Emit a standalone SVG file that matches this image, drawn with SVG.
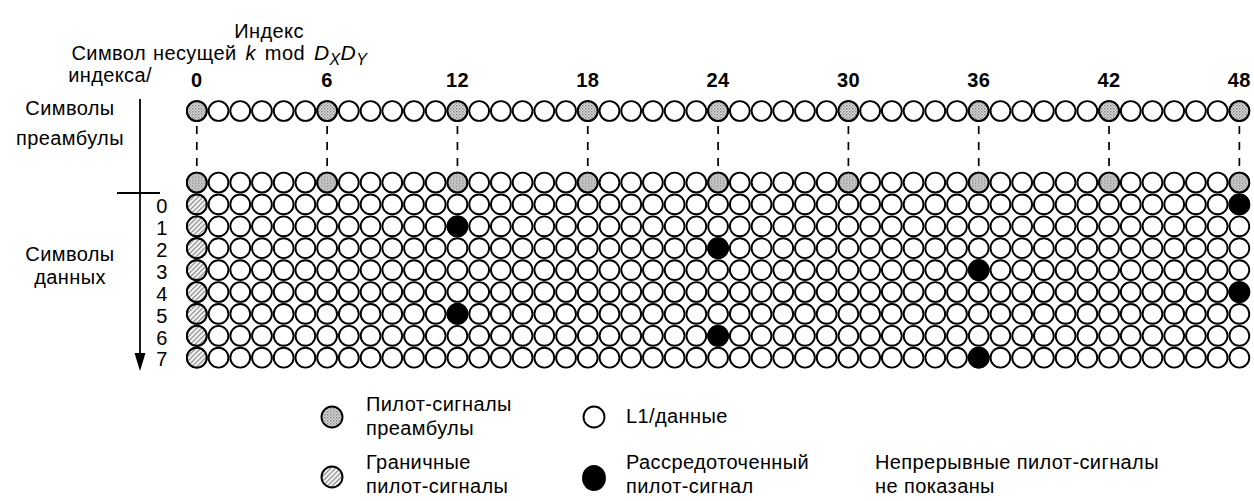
<svg xmlns="http://www.w3.org/2000/svg" xmlns:xlink="http://www.w3.org/1999/xlink" width="1254" height="501" viewBox="0 0 1254 501">
<style>
text{font-family:"Liberation Sans",Arial,sans-serif;font-size:20px;letter-spacing:0.4px;fill:#000}
.b{font-weight:bold;letter-spacing:0}
.n{font-size:19px;letter-spacing:0}
.c{stroke:#000;stroke-width:1.9}
.w{fill:#fff}
.p{fill:url(#stip)}
.e{fill:url(#hatch)}
.s{fill:#000}
.ax{stroke:#000;stroke-width:1.8;fill:none}
.d{stroke:#000;stroke-width:1.7;stroke-dasharray:8 8;fill:none}
</style>
<defs>
<pattern id="stip" width="3" height="3" patternUnits="userSpaceOnUse">
<rect width="3" height="3" fill="#e0e0e0"/>
<rect width="1.5" height="1.5" fill="#808080"/>
<rect x="1.5" y="1.5" width="1.5" height="1.5" fill="#a8a8a8"/>
</pattern>
<pattern id="hatch" width="3.4" height="3.4" patternUnits="userSpaceOnUse" patternTransform="rotate(45)">
<rect width="3.4" height="3.4" fill="#f4f4f4"/>
<line x1="0.6" y1="0" x2="0.6" y2="3.4" stroke="#777" stroke-width="1"/>
</pattern>
<g id="row" class="c w">
<circle cx="196.8" cy="0" r="9.9"/><circle cx="218.52" cy="0" r="9.9"/><circle cx="240.24" cy="0" r="9.9"/><circle cx="261.96" cy="0" r="9.9"/><circle cx="283.68" cy="0" r="9.9"/><circle cx="305.4" cy="0" r="9.9"/><circle cx="327.12" cy="0" r="9.9"/><circle cx="348.84" cy="0" r="9.9"/><circle cx="370.56" cy="0" r="9.9"/><circle cx="392.28" cy="0" r="9.9"/><circle cx="414" cy="0" r="9.9"/><circle cx="435.72" cy="0" r="9.9"/><circle cx="457.44" cy="0" r="9.9"/><circle cx="479.16" cy="0" r="9.9"/><circle cx="500.88" cy="0" r="9.9"/><circle cx="522.6" cy="0" r="9.9"/><circle cx="544.32" cy="0" r="9.9"/><circle cx="566.04" cy="0" r="9.9"/><circle cx="587.76" cy="0" r="9.9"/><circle cx="609.48" cy="0" r="9.9"/><circle cx="631.2" cy="0" r="9.9"/><circle cx="652.92" cy="0" r="9.9"/><circle cx="674.64" cy="0" r="9.9"/><circle cx="696.36" cy="0" r="9.9"/><circle cx="718.08" cy="0" r="9.9"/><circle cx="739.8" cy="0" r="9.9"/><circle cx="761.52" cy="0" r="9.9"/><circle cx="783.24" cy="0" r="9.9"/><circle cx="804.96" cy="0" r="9.9"/><circle cx="826.68" cy="0" r="9.9"/><circle cx="848.4" cy="0" r="9.9"/><circle cx="870.12" cy="0" r="9.9"/><circle cx="891.84" cy="0" r="9.9"/><circle cx="913.56" cy="0" r="9.9"/><circle cx="935.28" cy="0" r="9.9"/><circle cx="957" cy="0" r="9.9"/><circle cx="978.72" cy="0" r="9.9"/><circle cx="1000.44" cy="0" r="9.9"/><circle cx="1022.16" cy="0" r="9.9"/><circle cx="1043.88" cy="0" r="9.9"/><circle cx="1065.6" cy="0" r="9.9"/><circle cx="1087.32" cy="0" r="9.9"/><circle cx="1109.04" cy="0" r="9.9"/><circle cx="1130.76" cy="0" r="9.9"/><circle cx="1152.48" cy="0" r="9.9"/><circle cx="1174.2" cy="0" r="9.9"/><circle cx="1195.92" cy="0" r="9.9"/><circle cx="1217.64" cy="0" r="9.9"/><circle cx="1239.36" cy="0" r="9.9"/>
</g>
<g id="prow" class="c p">
<circle cx="196.8" cy="0" r="9.9"/><circle cx="327.12" cy="0" r="9.9"/><circle cx="457.44" cy="0" r="9.9"/><circle cx="587.76" cy="0" r="9.9"/><circle cx="718.08" cy="0" r="9.9"/><circle cx="848.4" cy="0" r="9.9"/><circle cx="978.72" cy="0" r="9.9"/><circle cx="1109.04" cy="0" r="9.9"/><circle cx="1239.36" cy="0" r="9.9"/>
</g>
</defs>
<rect width="1254" height="501" fill="#fff"/>

<g id="header">
<text x="269" y="38" text-anchor="middle">Индекс</text>
<text x="146" y="60" text-anchor="end">Символ</text>
<text x="152" y="82" text-anchor="end">индекса/</text>
<text x="153" y="60" word-spacing="3">несущей <tspan font-style="italic">k</tspan> mod <tspan font-style="italic" font-size="21">D</tspan><tspan font-style="italic" font-size="16" dy="5">X</tspan><tspan font-style="italic" font-size="21" dy="-5">D</tspan><tspan font-style="italic" font-size="16" dy="5">Y</tspan></text>
</g>

<g id="col-labels" class="b" text-anchor="middle">
<text x="196.8" y="87">0</text><text x="327.12" y="87">6</text><text x="457.44" y="87">12</text><text x="587.76" y="87">18</text><text x="718.08" y="87">24</text><text x="848.4" y="87">30</text><text x="978.72" y="87">36</text><text x="1109.04" y="87">42</text><text x="1239.36" y="87">48</text>
</g>

<g id="side-labels" text-anchor="middle">
<text x="70" y="115">Символы</text>
<text x="70" y="145">преамбулы</text>
<text x="70" y="261">Символы</text>
<text x="70" y="284">данных</text>
</g>

<g id="row-labels" class="n" text-anchor="middle">
<text x="162" y="213.1">0</text><text x="162" y="235">1</text><text x="162" y="256.9">2</text><text x="162" y="278.8">3</text><text x="162" y="300.7">4</text><text x="162" y="322.6">5</text><text x="162" y="344.5">6</text><text x="162" y="366.4">7</text>
</g>

<g id="connectors">
<line class="ax" x1="140" y1="99" x2="140" y2="356"/>
<polygon points="134.5,353 145.5,353 140,371" fill="#000"/>
<line class="ax" x1="117" y1="193" x2="160" y2="193"/>
<path class="d" d="M196.8 126V166M327.12 126V166M457.44 126V166M587.76 126V166M718.08 126V166M848.4 126V166M978.72 126V166M1109.04 126V166M1239.36 126V166"/>
</g>

<g id="preamble-row-1">
<use xlink:href="#row" y="111"/>
<use xlink:href="#prow" y="111"/>
</g>
<g id="preamble-row-2">
<use xlink:href="#row" y="182.5"/>
<use xlink:href="#prow" y="182.5"/>
</g>
<g id="data-rows">
<use xlink:href="#row" y="204.4"/>
<use xlink:href="#row" y="226.3"/>
<use xlink:href="#row" y="248.2"/>
<use xlink:href="#row" y="270.1"/>
<use xlink:href="#row" y="292"/>
<use xlink:href="#row" y="313.9"/>
<use xlink:href="#row" y="335.8"/>
<use xlink:href="#row" y="357.7"/>
</g>
<g id="edge-pilots" class="c e">
<circle cx="196.8" cy="204.4" r="9.9"/><circle cx="196.8" cy="226.3" r="9.9"/><circle cx="196.8" cy="248.2" r="9.9"/><circle cx="196.8" cy="270.1" r="9.9"/><circle cx="196.8" cy="292" r="9.9"/><circle cx="196.8" cy="313.9" r="9.9"/><circle cx="196.8" cy="335.8" r="9.9"/><circle cx="196.8" cy="357.7" r="9.9"/>
</g>
<g id="scattered-pilots" class="c s">
<circle cx="1239.36" cy="204.4" r="9.9"/><circle cx="457.44" cy="226.3" r="9.9"/><circle cx="718.08" cy="248.2" r="9.9"/><circle cx="978.72" cy="270.1" r="9.9"/><circle cx="1239.36" cy="292" r="9.9"/><circle cx="457.44" cy="313.9" r="9.9"/><circle cx="718.08" cy="335.8" r="9.9"/><circle cx="978.72" cy="357.7" r="9.9"/>
</g>

<g id="legend-preamble">
<circle class="c p" cx="332" cy="417" r="10.5"/>
<text x="366" y="411">Пилот-сигналы</text>
<text x="366" y="435">преамбулы</text>
</g>
<g id="legend-data">
<circle class="c w" cx="594" cy="417" r="10.5"/>
<text x="626" y="423">L1/данные</text>
</g>
<g id="legend-edge">
<circle class="c e" cx="332" cy="477" r="10.5"/>
<text x="366" y="469">Граничные</text>
<text x="366" y="493">пилот-сигналы</text>
</g>
<g id="legend-scattered">
<ellipse class="c s" cx="594" cy="478" rx="11" ry="12"/>
<text x="626" y="469">Рассредоточенный</text>
<text x="626" y="493">пилот-сигнал</text>
</g>
<g id="legend-note">
<text x="875" y="469">Непрерывные пилот-сигналы</text>
<text x="875" y="493">не показаны</text>
</g>
</svg>
